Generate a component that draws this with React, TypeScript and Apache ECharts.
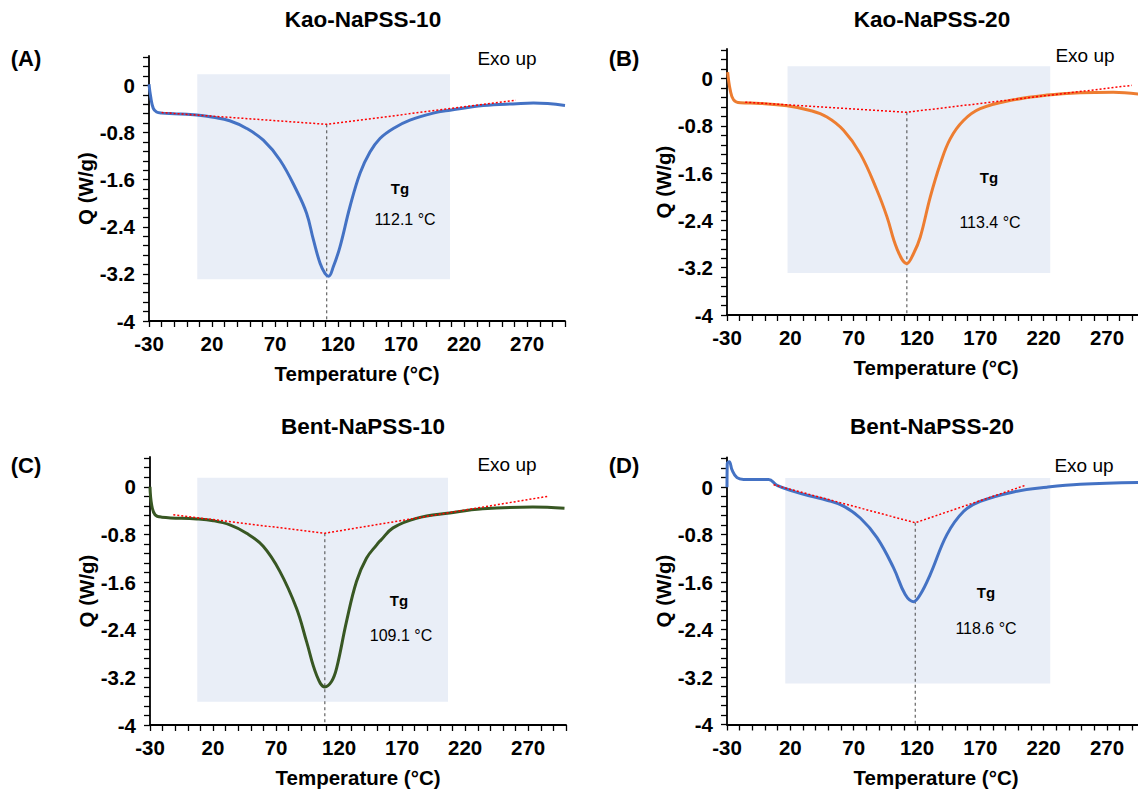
import React, { useEffect, useRef } from "react";
import * as echarts from "echarts";

// ---------- data ----------
const panelTitles = ["Kao-NaPSS-10", "Kao-NaPSS-20", "Bent-NaPSS-10", "Bent-NaPSS-20"];
const panelLetters = ["(A)", "(B)", "(C)", "(D)"];
const tgLabels = ["112.1 °C", "113.4 °C", "109.1 °C", "118.6 °C"];
const curveColors = ["#4472C4", "#ED7D31", "#385723", "#4472C4"];

const xTickLabels = [-30, 20, 70, 120, 170, 220, 270];
const yTickLabels = [-4, -3.2, -2.4, -1.6, -0.8, 0];

const tempA = [-30, -28.7, -26.6, -24, -20, -10, 0, 8, 21, 34, 47.5, 60.7, 74, 87, 95, 100.4, 105.7, 109.6, 112.5, 116.2, 121.5, 129.4, 137.4, 145.3, 153.2, 163.8, 177, 195.5, 208.8, 235.2, 261.7, 275, 300];
const qA = [0.02, -0.19, -0.39, -0.45, -0.47, -0.48, -0.49, -0.5, -0.54, -0.6, -0.73, -0.93, -1.27, -1.78, -2.17, -2.62, -3.02, -3.19, -3.24, -3.08, -2.74, -2.06, -1.49, -1.13, -0.9, -0.73, -0.59, -0.47, -0.42, -0.34, -0.31, -0.3, -0.34];

const tempB = [-29.5, -27.4, -24.8, -19.5, -3.7, 17.4, 35.7, 48.9, 62, 75.2, 88.4, 96.3, 104.2, 112, 117.3, 122.6, 130.5, 138.4, 146.2, 156.7, 169.9, 196.2, 222.6, 248.8, 275, 300];
const qB = [0.11, -0.2, -0.36, -0.41, -0.42, -0.46, -0.54, -0.65, -0.875, -1.27, -1.89, -2.34, -2.88, -3.13, -2.96, -2.68, -2.0, -1.44, -1.02, -0.71, -0.51, -0.36, -0.28, -0.24, -0.23, -0.28];

const tempC = [-30, -28.7, -26, -20.7, 7, 20.2, 33.4, 46.6, 59.8, 73, 86.2, 94.2, 102.1, 108.7, 114, 118, 125.9, 133.8, 141.7, 150, 151.5, 153, 162.8, 181.3, 207.7, 234, 273.7, 298.8];
const qC = [0.0, -0.3, -0.47, -0.51, -0.54, -0.57, -0.64, -0.78, -1.0, -1.42, -2.04, -2.6, -3.16, -3.36, -3.27, -3.05, -2.26, -1.59, -1.2, -0.97, -0.93, -0.9, -0.69, -0.53, -0.44, -0.37, -0.34, -0.36];

const tempD = [-30, -29.8, -28.2, -26, -22.1, -16.9, 2.8, 9.5, 22.6, 35.7, 48.9, 62, 75.2, 88.4, 101.5, 110.7, 117.3, 122.6, 130.5, 143.6, 156.7, 169.9, 196.2, 222.6, 248.8, 300];
const qD = [0.0, 0.4, 0.43, 0.29, 0.16, 0.13, 0.13, 0.03, -0.07, -0.15, -0.22, -0.32, -0.52, -0.85, -1.36, -1.81, -1.93, -1.81, -1.47, -0.8, -0.41, -0.24, -0.08, 0.0, 0.05, 0.08];

// tangent (baseline) construction lines: start, Tg apex, end
const baseAx = [-20, 111, 261];
const baseAy = [-0.46, -0.66, -0.25];
const baseBx = [-15.6, 112, 289.6];
const baseBy = [-0.4, -0.57, -0.115];
const baseCx = [-11.5, 108.7, 285.6];
const baseCy = [-0.47, -0.78, -0.16];
const baseDx = [6.8, 118.6, 205.4];
const baseDy = [0.04, -0.6, 0.03];

// shaded region [xFrom, xTo, yFrom, yTo]
const shadeA = [8.3, 208.8, -3.29, 0.19];
const shadeB = [17.8, 225.2, -3.29, 0.21];
const shadeC = [7.5, 206.4, -3.61, 0.15];
const shadeD = [16, 225.2, -3.31, 0.155];

// ---------- layout ----------
const FONT = '"Liberation Sans", Arial, sans-serif';
const grids = [
  { left: 149, top: 56, width: 416, height: 265 },
  { left: 727, top: 49, width: 418, height: 266 },
  { left: 150, top: 457, width: 416, height: 268 },
  { left: 727, top: 457.5, width: 418, height: 267 },
];
const titlePos = [[363, 19], [932, 19], [363, 426], [932, 426]];
const letterPos = [[26, 58], [624, 58], [26, 465], [624, 465]];
const exoPos = [[507, 58], [1085, 55], [507, 464], [1084, 465]];
const tgPos = [[400, 188], [989, 177], [399, 600], [986, 592]];
const tgValPos = [[405, 219], [990, 222], [401, 635], [986, 628]];

const zip = (xs: number[], ys: number[]) => xs.map((x, i) => [x, ys[i]]);

function buildOption() {
  const curves = [zip(tempA, qA), zip(tempB, qB), zip(tempC, qC), zip(tempD, qD)];
  const bases = [zip(baseAx, baseAy), zip(baseBx, baseBy), zip(baseCx, baseCy), zip(baseDx, baseDy)];
  const shades = [shadeA, shadeB, shadeC, shadeD];

  const xTicks: number[] = [];
  for (let v = -30; v <= 300; v += 10) xTicks.push(v);
  const yTicks: number[] = [];
  for (let k = 0; k <= 28; k++) yTicks.push(Math.round((-4 + 0.16 * k) * 100) / 100);

  const series: any[] = [];
  const graphic: any[] = [];
  const txt = (x: number, y: number, text: string, size: number, bold: boolean, z = 10) => ({
    type: "text",
    x,
    y,
    z,
    style: {
      text,
      fontFamily: FONT,
      fontSize: size,
      fontWeight: bold ? "bold" : "normal",
      fill: "#000",
      textAlign: "center",
      textVerticalAlign: "middle",
      align: "center",
      verticalAlign: "middle",
    },
  });

  for (let i = 0; i < 4; i++) {
    const s = shades[i];
    series.push({
      type: "line",
      xAxisIndex: i,
      yAxisIndex: i,
      data: [],
      z: 1,
      silent: true,
      markArea: {
        silent: true,
        itemStyle: { color: "#E9EEF7" },
        data: [[{ coord: [s[0], s[3]] }, { coord: [s[1], s[2]] }]],
      },
    });
    const apex = bases[i][1];
    series.push({
      type: "line",
      xAxisIndex: i,
      yAxisIndex: i,
      data: [[apex[0], apex[1]], [apex[0], -4]],
      showSymbol: false,
      z: 3,
      lineStyle: { color: "#444", width: 1, type: [3, 3] },
    });
    series.push({
      type: "line",
      xAxisIndex: i,
      yAxisIndex: i,
      data: curves[i],
      showSymbol: false,
      smooth: 0.4,
      z: 4,
      lineStyle: { color: curveColors[i], width: 3 },
    });
    series.push({
      type: "line",
      xAxisIndex: i,
      yAxisIndex: i,
      data: bases[i],
      showSymbol: false,
      z: 5,
      lineStyle: { color: "#FF0000", width: 1.5, type: [2, 2] },
    });

    graphic.push(txt(titlePos[i][0], titlePos[i][1], panelTitles[i], 22.5, true));
    graphic.push(txt(letterPos[i][0], letterPos[i][1], panelLetters[i], 22, true));
    graphic.push(txt(exoPos[i][0], exoPos[i][1], "Exo up", 19, false));
    graphic.push(txt(tgPos[i][0], tgPos[i][1], "Tg", 15, true));
    graphic.push(txt(tgValPos[i][0], tgValPos[i][1], tgLabels[i], 16, false));
  }

  const xAxis = grids.map((_, i) => ({
    type: "value",
    gridIndex: i,
    min: -30,
    max: 300,
    name: "Temperature (°C)",
    nameLocation: "middle",
    nameGap: 42,
    nameTextStyle: { fontFamily: FONT, fontSize: 20.5, fontWeight: "bold", color: "#000" },
    axisLine: { show: true, onZero: false, lineStyle: { color: "#000", width: 1.8 } },
    axisTick: { show: true, inside: false, length: 6, customValues: xTicks, lineStyle: { color: "#000", width: 1.3 } },
    axisLabel: { customValues: xTickLabels, margin: 12, fontFamily: FONT, fontSize: 20.5, fontWeight: "bold", color: "#000" },
    splitLine: { show: false },
  }));
  const yAxis = grids.map((_, i) => ({
    type: "value",
    gridIndex: i,
    min: -4,
    max: 0.5,
    name: "Q (W/g)",
    nameLocation: "middle",
    nameRotate: 90,
    nameGap: 52,
    nameTextStyle: { fontFamily: FONT, fontSize: 20.5, fontWeight: "bold", color: "#000" },
    axisLine: { show: true, onZero: false, lineStyle: { color: "#000", width: 1.8 } },
    axisTick: { show: true, inside: false, length: 6, customValues: yTicks, lineStyle: { color: "#000", width: 1.3 } },
    axisLabel: { customValues: yTickLabels, margin: 14, fontFamily: FONT, fontSize: 20.5, fontWeight: "bold", color: "#000" },
    splitLine: { show: false },
  }));

  return {
    animation: false,
    backgroundColor: "#fff",
    grid: grids.map((g) => ({ ...g, containLabel: false, outerBoundsMode: "none" })),
    xAxis,
    yAxis,
    series,
    graphic,
  };
}

export default function App() {
  const ref = useRef<HTMLDivElement>(null);
  useEffect(() => {
    const chart = echarts.init(ref.current!, null, { renderer: "svg" });
    chart.setOption(buildOption() as any);
    return () => chart.dispose();
  }, []);
  return (
    <div
      ref={ref}
      style={{ position: "absolute", left: 0, top: 0, width: 1138, height: 789, background: "#fff" }}
    />
  );
}
